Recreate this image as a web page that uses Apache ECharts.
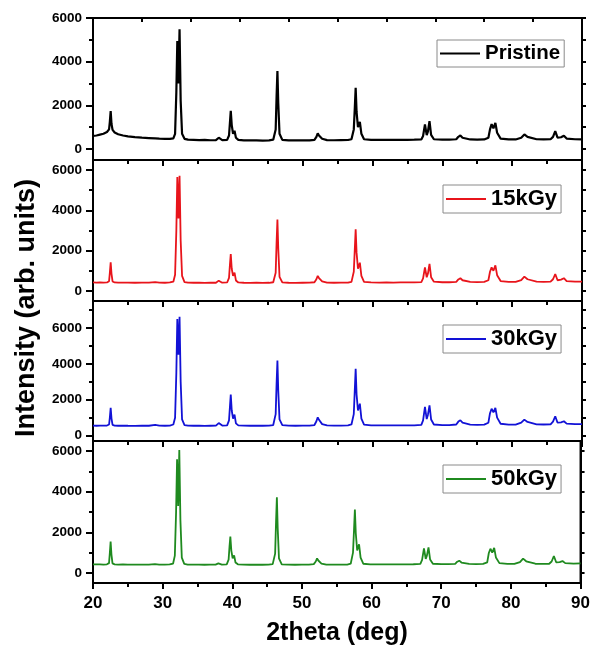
<!DOCTYPE html>
<html>
<head>
<meta charset="utf-8">
<script src="https://cdn.jsdelivr.net/npm/echarts@6/dist/echarts.min.js"></script>
<style>
  html, body { margin: 0; padding: 0; background: #fff; }
  #chart { width: 593px; height: 646px; }
</style>
</head>
<body>
<div id="chart"></div>
<script>
// 2theta positions (deg) shared by all four diffraction patterns
const twoTheta = [
  20.0, 20.5, 21.0, 21.5, 22.0, 22.3, 22.41, 22.53, 22.65, 22.8,
  23.1, 23.6, 24.3, 25.0, 26.0, 27.0, 28.0, 28.9, 29.5, 30.3,
  31.0, 31.5, 31.75, 31.93, 32.07, 32.23, 32.39, 32.55, 32.75, 33.1,
  33.6, 34.4, 35.2, 36.0, 36.8, 37.6, 38.0, 38.5, 39.2, 39.47,
  39.6, 39.72, 39.86, 40.05, 40.26, 40.46, 40.8, 41.6, 42.5, 43.4,
  44.3, 45.2, 45.8, 46.15, 46.28, 46.4, 46.52, 46.7, 47.1, 48.0,
  49.0, 50.0, 51.0, 51.7, 51.98, 52.17, 52.35, 52.54, 52.8, 53.5,
  54.5, 55.5, 56.5, 57.0, 57.33, 57.48, 57.6, 57.73, 57.93, 58.2,
  58.42, 58.8, 59.8, 61.0, 62.0, 63.0, 64.0, 65.0, 66.0, 67.0,
  67.25, 67.52, 67.77, 67.94, 68.17, 68.4, 68.8, 70.0, 71.0, 72.0,
  72.3, 72.59, 72.9, 74.0, 75.0, 76.0, 76.6, 76.83, 77.06, 77.32,
  77.6, 77.85, 78.35, 79.5, 80.5, 81.3, 81.75, 82.2, 83.5, 84.5,
  85.5, 85.85, 86.17, 86.5, 87.0, 87.41, 87.8, 89.0, 90.0
];

// Intensities (arb. units)
const pristine = [
  600, 620, 660, 700, 780, 900, 1250, 1740, 1150, 880,
  760, 680, 620, 580, 545, 520, 505, 490, 480, 470,
  465, 490, 700, 2600, 4950, 3000, 5480, 2200, 700, 470,
  430, 420, 410, 420, 405, 410, 520, 410, 420, 620,
  1200, 1750, 1100, 700, 840, 520, 420, 400, 395, 400,
  390, 400, 430, 900, 2400, 3570, 2100, 700, 420, 400,
  400, 395, 400, 420, 560, 720, 620, 650, 470, 410,
  405, 410, 415, 450, 900, 1900, 2810, 1700, 1000, 1250,
  700, 450, 420, 420, 425, 420, 420, 425, 430, 440,
  600, 1130, 640, 800, 1280, 650, 450, 430, 430, 450,
  560, 625, 520, 440, 430, 440, 520, 900, 1145, 950,
  1200, 750, 480, 440, 440, 520, 670, 560, 450, 440,
  450, 560, 820, 520, 540, 610, 480, 450, 440
];
const dose15 = [
  420, 410, 420, 415, 420, 480, 900, 1420, 850, 470,
  420, 410, 415, 410, 405, 415, 410, 440, 410, 405,
  420, 460, 800, 3000, 5650, 3600, 5720, 2500, 750, 440,
  410, 405, 410, 400, 410, 405, 510, 410, 420, 650,
  1300, 1830, 1100, 750, 910, 520, 420, 405, 400, 405,
  400, 405, 430, 900, 2400, 3550, 2100, 700, 420, 405,
  400, 405, 410, 430, 580, 745, 640, 680, 470, 410,
  405, 410, 410, 450, 950, 2100, 3060, 1900, 1100, 1400,
  750, 450, 420, 415, 420, 415, 420, 420, 425, 440,
  620, 1170, 680, 850, 1340, 680, 460, 430, 430, 450,
  570, 630, 530, 450, 440, 450, 530, 950, 1170, 1000,
  1270, 780, 490, 450, 450, 540, 710, 580, 460, 450,
  460, 580, 840, 530, 560, 630, 490, 460, 460
];
const dose30 = [
  560, 550, 560, 555, 560, 620, 1000, 1550, 950, 600,
  560, 550, 555, 550, 545, 555, 550, 600, 555, 550,
  560, 620, 1000, 3500, 6500, 4500, 6620, 3000, 900, 580,
  555, 550, 555, 545, 550, 555, 700, 560, 570, 850,
  1600, 2290, 1400, 950, 1170, 680, 570, 555, 550, 555,
  550, 555, 590, 1200, 2900, 4180, 2500, 900, 580, 555,
  550, 555, 560, 590, 800, 1020, 880, 930, 640, 570,
  560, 560, 565, 620, 1200, 2600, 3720, 2300, 1400, 1780,
  950, 610, 570, 565, 570, 565, 570, 570, 575, 600,
  850, 1600, 920, 1150, 1690, 900, 620, 590, 590, 620,
  780, 855, 720, 610, 600, 610, 720, 1250, 1500, 1300,
  1540, 1000, 660, 610, 610, 720, 890, 760, 630, 620,
  630, 780, 1080, 720, 740, 800, 670, 640, 640
];
const dose50 = [
  420, 415, 420, 410, 420, 480, 950, 1540, 900, 470,
  420, 410, 415, 410, 405, 410, 410, 430, 410, 405,
  415, 460, 850, 3000, 5600, 3300, 6050, 2600, 750, 440,
  410, 405, 410, 400, 410, 405, 465, 410, 420, 650,
  1300, 1790, 1100, 720, 860, 510, 420, 405, 400, 405,
  400, 405, 430, 950, 2500, 3730, 2200, 720, 420, 405,
  400, 405, 410, 430, 560, 710, 610, 630, 460, 410,
  405, 410, 410, 450, 1000, 2150, 3120, 1950, 1100, 1410,
  750, 450, 420, 415, 420, 415, 420, 420, 425, 440,
  640, 1210, 690, 850, 1260, 660, 450, 430, 430, 440,
  550, 600, 510, 440, 430, 440, 520, 980, 1190, 1000,
  1230, 760, 480, 440, 440, 530, 700, 570, 450, 440,
  450, 560, 830, 520, 530, 580, 480, 460, 465
];

const seriesNames = ['Pristine', '15kGy', '30kGy', '50kGy'];
const seriesValues = [pristine, dose15, dose30, dose50];
const seriesColors = ['#000000', '#e8141b', '#1212d6', '#1f8a1f'];

// y-axis extents and tick positions of each stacked panel
const yMins = [-500, -500, -300, -500];
const yMaxs = [6000, 6500, 7500, 6500];
const yLabelValues = [0, 2000, 4000, 6000];
const yMinorValues = [
  [1000, 3000, 5000],
  [1000, 3000, 5000],
  [1000, 3000, 5000, 7000],
  [1000, 3000, 5000]
];
const yAllTickValues = [
  [0, 1000, 2000, 3000, 4000, 5000, 6000],
  [0, 1000, 2000, 3000, 4000, 5000, 6000],
  [0, 1000, 2000, 3000, 4000, 5000, 6000, 7000],
  [0, 1000, 2000, 3000, 4000, 5000, 6000]
];
const topTickValues = [27, 34, 41, 48, 55, 62, 69, 76, 83];

const FONT = '"Liberation Sans", Arial, sans-serif';
const panelTops = [18, 160, 301, 441];
const panelHeights = [142, 141, 140, 142];
const legendTops = [40, 185, 325, 465];
const legendLefts = [437, 443, 443, 443];
const legendFontSizes = [20.5, 22, 22, 22];

const BLACK = { color: '#000', width: 2 };
const grids = [], xAxes = [], yAxes = [], series = [], legends = [];

for (let i = 0; i < 4; i++) {
  grids.push({
    left: 93, right: 11, top: panelTops[i], height: panelHeights[i],
    show: true, borderColor: '#000', borderWidth: 2, backgroundColor: 'transparent'
  });
  xAxes.push({
    type: 'value', gridIndex: i, min: 20, max: 90, interval: 10,
    axisLine: { show: true, onZero: false, lineStyle: BLACK },
    axisTick: { show: true, inside: false, length: 6, lineStyle: BLACK },
    minorTick: { show: true, splitNumber: 2, length: 4, lineStyle: BLACK },
    axisLabel: {
      show: i === 3, color: '#000', fontFamily: FONT, fontWeight: 'bold',
      fontSize: 17, margin: 12
    },
    splitLine: { show: false }
  });
  // left axis: labelled ticks every 2000
  yAxes.push({
    type: 'value', gridIndex: i, min: yMins[i], max: yMaxs[i], position: 'left',
    axisLine: { show: true, onZero: false, lineStyle: BLACK },
    axisTick: { show: true, inside: false, length: 7, customValues: yLabelValues, lineStyle: BLACK },
    axisLabel: {
      show: true, customValues: yLabelValues, formatter: v => String(v),
      color: '#000', fontFamily: FONT, fontWeight: 'bold', fontSize: 13.5, margin: 11
    },
    splitLine: { show: false }
  });
  // left axis: short unlabelled ticks in between
  yAxes.push({
    type: 'value', gridIndex: i, min: yMins[i], max: yMaxs[i], position: 'left', offset: 0,
    axisLine: { show: false, onZero: false },
    axisTick: { show: true, inside: false, length: 4, customValues: yMinorValues[i], lineStyle: BLACK },
    axisLabel: { show: false },
    splitLine: { show: false }
  });
  // right frame edge with outward ticks
  yAxes.push({
    type: 'value', gridIndex: i, min: yMins[i], max: yMaxs[i], position: 'right',
    axisLine: { show: true, onZero: false, lineStyle: BLACK },
    axisTick: { show: true, inside: false, length: 4, customValues: yAllTickValues[i], lineStyle: BLACK },
    axisLabel: { show: false },
    splitLine: { show: false }
  });
  series.push({
    name: seriesNames[i], type: 'line', xAxisIndex: i, yAxisIndex: i * 3,
    data: twoTheta.map((t, k) => [t, seriesValues[i][k]]),
    showSymbol: false, symbol: 'none',
    lineStyle: { color: seriesColors[i], width: i === 0 ? 2.2 : 1.8 },
    itemStyle: { color: seriesColors[i] },
    emphasis: { disabled: true }
  });
  legends.push({
    data: [seriesNames[i]], left: legendLefts[i], top: legendTops[i],
    orient: 'horizontal', padding: [3, 4, 3, 3],
    borderColor: '#8a8a8a', borderWidth: 1, backgroundColor: '#fff',
    icon: 'rect', itemWidth: 40, itemHeight: 2, itemGap: 6,
    textStyle: { color: '#000', fontFamily: FONT, fontWeight: 'bold', fontSize: legendFontSizes[i] },
    selectedMode: false
  });
}

// ticks along the top edge of the uppermost panel
xAxes.push({
  type: 'value', gridIndex: 0, min: 20, max: 90, position: 'top',
  axisLine: { show: false, onZero: false },
  axisTick: {
    show: true, inside: true, length: 4, customValues: topTickValues, lineStyle: BLACK
  },
  axisLabel: { show: false },
  splitLine: { show: false }
});

const chart = echarts.init(document.getElementById('chart'), null, { renderer: 'canvas' });
chart.setOption({
  animation: false,
  backgroundColor: '#fff',
  grid: grids,
  xAxis: xAxes,
  yAxis: yAxes,
  legend: legends,
  series: series,
  graphic: [
    {
      type: 'text', x: 27, y: 308, rotation: Math.PI / 2,
      style: {
        text: 'Intensity (arb. units)', fill: '#000',
        font: 'bold 27px ' + FONT, textAlign: 'center', textVerticalAlign: 'middle'
      }
    },
    {
      type: 'text', x: 337, y: 633,
      style: {
        text: '2theta (deg)', fill: '#000',
        font: 'bold 25px ' + FONT, textAlign: 'center', textVerticalAlign: 'middle'
      }
    }
  ]
});
</script>
</body>
</html>
